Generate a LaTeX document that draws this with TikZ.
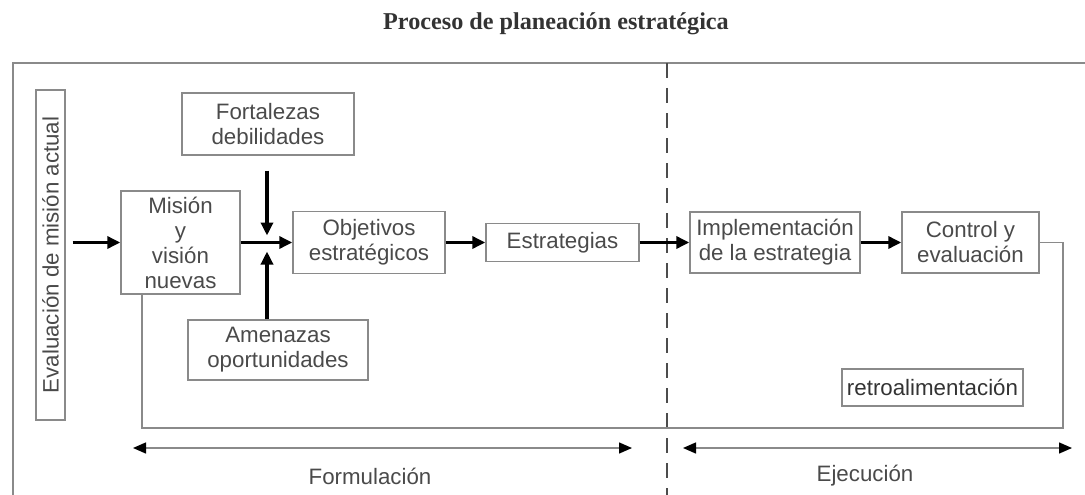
\documentclass[tikz,border=0pt]{standalone}
\usepackage{fontspec}
\setmainfont{Liberation Serif}
\setsansfont{Liberation Sans}
\usetikzlibrary{arrows.meta}
\definecolor{boxline}{HTML}{8A8A8A}
\definecolor{txt}{HTML}{4A4A4A}
\definecolor{ttl}{HTML}{333333}
\tikzset{
  bx/.style={draw=boxline, line width=1.4pt, inner sep=0pt, align=center,
    font=\sffamily\fontsize{22.3}{25}\selectfont, text=txt},
  arr/.style={line width=3.5pt, draw=black, -{Triangle[length=13pt,width=12pt]}},
  thinline/.style={draw=boxline, line width=1.4pt},
  span/.style={draw=boxline, line width=1.4pt,
    {Triangle[length=13pt,width=11pt,black]}-{Triangle[length=13pt,width=11pt,black]}},
  lbl/.style={font=\sffamily\fontsize{22.3}{25}\selectfont, text=txt},
}
\begin{document}
\begin{tikzpicture}[x=1pt,y=-1pt]
\useasboundingbox (0,0) rectangle (1085,495);
% title
\node[font=\bfseries\fontsize{24.2}{27}\selectfont, text=ttl] (title) at (556,24) {Proceso de planeación estratégica};
% frame
\coordinate (ftr) at (1085,63);
\coordinate (ftl) at (13,63);
\coordinate (fbl0) at (13,495);
\draw[thinline] (ftr) -- (ftl) -- (fbl0);
% dashed divider
\coordinate (dtop) at (667,63);
\coordinate (dbot) at (667,495);
\draw[draw=black!70, line width=1.3pt, dash pattern=on 15pt off 10pt] (dtop) -- (dbot);
% boxes
\node[bx, minimum width=29pt, minimum height=330pt] (eval) at (50.5,255) {};
\node[lbl, rotate=90] (evaltxt) at (eval.center) {Evaluación de misión actual};
\node[bx, minimum width=119pt, minimum height=103pt] (mis) at (180.5,242.5) {Misión\\y\\visión\\nuevas};
\node[bx, minimum width=172pt, minimum height=62pt] (fort) at (268,124) {Fortalezas\\debilidades};
\node[bx, minimum width=180pt, minimum height=60pt] (amen) at (278,350) {Amenazas\\oportunidades};
\node[bx, minimum width=152pt, minimum height=62pt] (obj) at (369,242.5) {Objetivos\\estratégicos};
\node[bx, minimum width=153pt, minimum height=38pt] (estr) at (562.5,242.5) {Estrategias};
\node[bx, minimum width=170pt, minimum height=61pt] (impl) at (775,242.5) {Implementación\\de la estrategia};
\node[bx, minimum width=137pt, minimum height=61pt] (ctrl) at (970.5,242.5) {Control y\\evaluación};
\node[bx, minimum width=181pt, minimum height=37pt, text=ttl] (retro) at (932.5,387.5) {retroalimentación};
% arrows
\coordinate (j) at (267,242.5);
\draw[arr] ([xshift=7pt]eval.east |- mis.west) -- (mis.west);
\draw[arr] (mis.east) -- (obj.west);
\draw[arr] ([yshift=-15pt]fort.south -| j) -- ([yshift=7pt]j);
\draw[arr] (amen.north -| j) -- ([yshift=-9pt]j);
\draw[arr] (obj.east) -- (estr.west);
\draw[arr] (estr.east) -- (impl.west);
\draw[arr] (impl.east) -- (ctrl.west);
% feedback loop
\coordinate (fbr) at (1063,428);
\coordinate (fbl) at (142,428);
\draw[thinline] (ctrl.east) -| (fbr) -- (fbl) -- (fbl |- mis.south);
% spans
\coordinate (fa) at (133,448);
\coordinate (fb) at (632,448);
\coordinate (ea) at (683,448);
\coordinate (eb) at (1072,448);
\draw[span] (fa) -- (fb);
\draw[span] (ea) -- (eb);
\node[lbl] (form) at (370,476) {Formulación};
\node[lbl] (ejec) at (865,476) {Ejecución};
\end{tikzpicture}
\end{document}
